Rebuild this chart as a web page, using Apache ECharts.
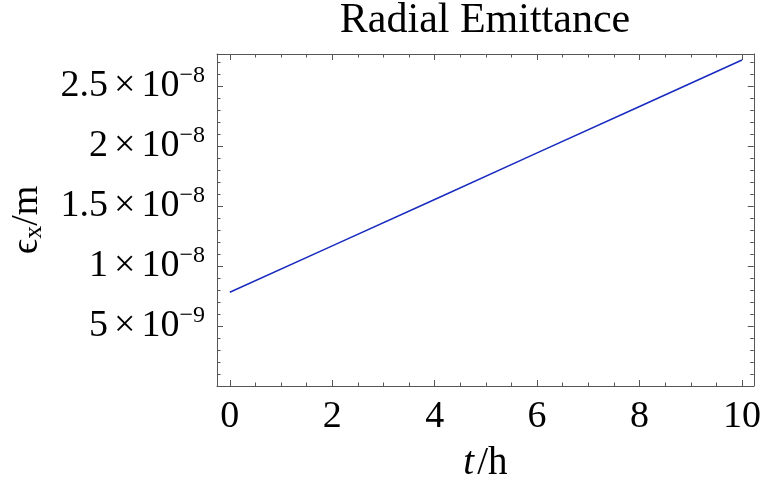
<!DOCTYPE html>
<html>
<head>
<meta charset="utf-8">
<script src="https://cdn.jsdelivr.net/npm/echarts@6/dist/echarts.min.js"></script>
<style>
  html, body { margin: 0; padding: 0; background: #fff; }
  #chart { width: 764px; height: 488px; }
</style>
</head>
<body>
<div id="chart"></div>
<script>
// Radial emittance growth over time
const timeHours = [0, 2, 4, 6, 8, 10];
const emittance = [7.81e-9, 1.168e-8, 1.555e-8, 1.943e-8, 2.330e-8, 2.717e-8];

const xMajorTicks = [0, 2, 4, 6, 8, 10];
const xMinorTicks = [0.5, 1, 1.5, 2.5, 3, 3.5, 4.5, 5, 5.5, 6.5, 7, 7.5, 8.5, 9, 9.5];
const yMajorTicks = [5e-9, 1e-8, 1.5e-8, 2e-8, 2.5e-8];
const yMinorTicks = [1e-9, 2e-9, 3e-9, 4e-9, 6e-9, 7e-9, 8e-9, 9e-9,
  1.1e-8, 1.2e-8, 1.3e-8, 1.4e-8, 1.6e-8, 1.7e-8, 1.8e-8, 1.9e-8,
  2.1e-8, 2.2e-8, 2.3e-8, 2.4e-8, 2.6e-8, 2.7e-8];
const yTickLabels = {
  5e-9: ['5', '\u22129'],
  1e-8: ['1', '\u22128'],
  1.5e-8: ['1.5', '\u22128'],
  2e-8: ['2', '\u22128'],
  2.5e-8: ['2.5', '\u22128']
};

const FONT = "'Liberation Serif', 'Times New Roman', serif";
const FRAME = '#555';
const X_MIN = -0.25, X_MAX = 10.23;
const Y_MIN = 0, Y_MAX = 2.767e-8;

function findLabel(v) {
  for (const k of Object.keys(yTickLabels)) {
    if (Math.abs(Number(k) - v) < 1e-12) return yTickLabels[k];
  }
  return null;
}

function frameAxis(pos, min, max, ticks, len, showLine, label) {
  return {
    type: 'value', position: pos, min: min, max: max,
    axisLine: { show: showLine, onZero: false, lineStyle: { color: FRAME, width: 1 } },
    axisTick: { show: true, inside: true, length: len, customValues: ticks,
      lineStyle: { color: FRAME, width: 1 } },
    axisLabel: label || { show: false },
    splitLine: { show: false },
    minorTick: { show: false }
  };
}

const xLabel = {
  show: true, customValues: xMajorTicks, margin: 12,
  fontFamily: FONT, fontSize: 38, color: '#000',
  formatter: v => String(Math.round(v))
};
const yLabel = {
  show: true, customValues: yMajorTicks, margin: 12,
  formatter: v => {
    const p = findLabel(v);
    return p ? '{m|' + p[0] + '}{x|\u00d7}{m|10}{s|' + p[1] + '}' : '';
  },
  rich: {
    m: { fontFamily: FONT, fontSize: 38, color: '#000', lineHeight: 44 },
    x: { fontFamily: FONT, fontSize: 38, color: '#000', lineHeight: 44, padding: [0, 6, 0, 6] },
    s: { fontFamily: FONT, fontSize: 24, color: '#000', verticalAlign: 'top', lineHeight: 24 }
  }
};

const xAxes = [
  Object.assign(frameAxis('bottom', X_MIN, X_MAX, xMajorTicks, 6, true, xLabel), {
    name: '{i|t}{n|/h}', nameLocation: 'middle', nameGap: 58,
    nameTextStyle: { rich: {
      i: { fontFamily: FONT, fontSize: 39, fontStyle: 'italic', color: '#000', padding: [0, 3, 0, 0] },
      n: { fontFamily: FONT, fontSize: 39, color: '#000' }
    } }
  }),
  frameAxis('bottom', X_MIN, X_MAX, xMinorTicks, 3.5, false),
  frameAxis('top', X_MIN, X_MAX, xMajorTicks, 6, true),
  frameAxis('top', X_MIN, X_MAX, xMinorTicks, 3.5, false)
];
const yAxes = [
  Object.assign(frameAxis('left', Y_MIN, Y_MAX, yMajorTicks, 6, true, yLabel), {
    name: '{e|\u03f5}{b|x}{e|/m}', nameLocation: 'middle', nameGap: 170, nameRotate: 90,
    nameTextStyle: { rich: {
      e: { fontFamily: FONT, fontSize: 38, color: '#000', lineHeight: 40 },
      b: { fontFamily: FONT, fontSize: 26, color: '#000', verticalAlign: 'bottom', lineHeight: 26 }
    } }
  }),
  frameAxis('left', Y_MIN, Y_MAX, yMinorTicks, 3.5, false),
  frameAxis('right', Y_MIN, Y_MAX, yMajorTicks, 6, true),
  frameAxis('right', Y_MIN, Y_MAX, yMinorTicks, 3.5, false)
];

const chart = echarts.init(document.getElementById('chart'), null, { renderer: 'canvas' });
chart.setOption({
  animation: false,
  backgroundColor: '#fff',
  grid: { left: 217, right: 10, top: 54, bottom: 102, containLabel: false },
  graphic: [{
    type: 'text', x: 485, y: 21,
    style: { text: 'Radial Emittance', font: '42px ' + FONT, fill: '#000',
      textAlign: 'center', textVerticalAlign: 'middle' }
  }],
  xAxis: xAxes,
  yAxis: yAxes,
  series: [{
    type: 'line',
    xAxisIndex: 0, yAxisIndex: 0,
    data: timeHours.map((t, i) => [t, emittance[i]]),
    showSymbol: false,
    lineStyle: { color: '#1a2cc0', width: 1.6 }
  }]
});
</script>
</body>
</html>
